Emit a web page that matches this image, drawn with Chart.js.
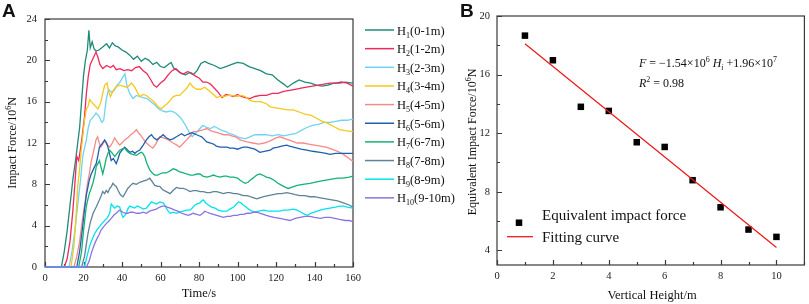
<!DOCTYPE html>
<html><head><meta charset="utf-8">
<script src="https://cdn.jsdelivr.net/npm/chart.js@4.4.0/dist/chart.umd.min.js"></script>
<style>
html,body{margin:0;padding:0;background:#fff;}
body{width:809px;height:304px;position:relative;overflow:hidden;}
canvas{position:absolute;top:0;}
#ca{left:0;}
#cb{left:456px;}
</style></head><body>
<canvas id="ca" width="460" height="304"></canvas>
<canvas id="cb" width="353" height="304"></canvas>
<script>
// ---------- Panel A data: [time (s), impact force (10^6 N)] ----------
const H1 = [[0,0],[8.5,0],[10,1.5],[11.5,3.5],[13,6],[14.5,8.5],[16,10.5],[17,12],[18,13.5],[19,16],[20,18.5],[21,20],[22,21],[22.8,22.9],[23.5,21.2],[24.5,21.8],[25.5,21.1],[26.5,20.9],[28,21.0],[30,21.3],[32,21.6],[33.5,21.2],[35,21.7],[36.5,21.4],[38,21.3],[40,21.0],[42,20.8],[44,20.5],[46,20.1],[48,20.4],[50,19.9],[52,20.2],[54,20.0],[56,19.6],[58,19.8],[60,19.4],[62,19.3],[64,19.6],[65.5,19.8],[67,19.2],[69,19.0],[71,18.7],[73,18.6],[75,18.8],[77,18.6],[79,19.0],[81,19.7],[83,19.9],[85,19.7],[88,19.5],[91,19.2],[94,19.4],[97,19.6],[100,19.8],[103,19.7],[106,19.4],[109,19.2],[112,19.0],[115,18.7],[118,18.6],[121,18.1],[124,17.7],[126,17.4],[129,17.8],[132,18.1],[135,17.9],[138,17.8],[141,17.6],[144,17.5],[147,17.6],[150,17.8],[153,17.8],[156,17.9],[160,17.8]];
const H2 = [[0,0],[10,0],[11.5,0.8],[13,2.5],[14.5,5.5],[15.5,8],[16.5,10.7],[17.5,10.3],[18.5,11.5],[19.5,12.9],[20.5,14.5],[21.5,16.8],[22.5,18.5],[23.5,19.6],[25,20.2],[26.5,20.8],[27.5,20.3],[28.5,19.6],[30,19.2],[32,19.5],[34,19.3],[35.5,19.5],[37,19.1],[39,19.2],[41,19.0],[43,19.1],[45,19.0],[47,19.3],[49,19.4],[51,19.0],[53,18.7],[55,18.1],[56.5,17.6],[58,17.4],[60,17.8],[62,18.1],[64,18.6],[66,19.0],[68,19.2],[70,18.8],[72,18.7],[74,18.9],[76,18.8],[78,18.5],[80,18.3],[82,17.9],[84,17.9],[86,17.7],[88,17.3],[90,16.9],[92,16.4],[94,16.7],[96,16.6],[98,16.5],[100,16.7],[102,16.5],[104,16.4],[106.5,16.3],[109,16.5],[112,16.6],[115,16.6],[118,16.8],[121,16.8],[124,17.0],[127,17.1],[130,17.2],[133,17.3],[136,17.4],[139,17.5],[142,17.6],[145,17.7],[148,17.8],[151,17.8],[154,17.9],[157,17.8],[160,17.5]];
const H3 = [[0,0],[12.5,0],[14,1.5],[15.5,3.5],[17,6],[18.5,8.5],[19.6,10.7],[20.5,11.5],[21.5,12.3],[22.5,13.5],[23.5,14.2],[25,14.5],[26.5,14.9],[28,14.6],[29.5,14.0],[30.5,14.2],[31.8,16.2],[33,17.2],[34.5,16.9],[36,17.1],[37.5,17.6],[39,17.9],[40.5,18.4],[41.5,18.7],[42.5,17.6],[44,16.8],[45.7,16.3],[47.5,16.6],[49,16.5],[51,16.4],[53,16.3],[55,16.0],[57,15.7],[59,15.3],[61,15.1],[63,15.0],[65,15.1],[67,15.0],[69,14.7],[71,14.3],[73,13.7],[75,13.0],[76.5,12.6],[78,12.9],[80,13.3],[82,13.7],[84,13.5],[86,13.4],[88,13.6],[90,13.4],[92,13.2],[94,13.1],[96,12.9],[98,12.8],[100,12.6],[102,12.5],[104,12.4],[106.5,12.6],[109,12.8],[112,12.8],[115,12.8],[118,12.7],[121,12.8],[124,12.7],[127,12.8],[130,12.9],[133,13.2],[136,13.5],[139,13.7],[142,13.8],[145,14.0],[148,14.0],[151,14.1],[154,14.2],[157,14.2],[160,14.3]];
const H4 = [[0,0],[13.5,0],[15,2],[16,4.5],[17,7.8],[18,9.5],[18.8,11.3],[19.7,12.8],[20.5,14.2],[21.5,15.3],[22.3,15.5],[23.2,16.2],[24,16.0],[25,15.8],[26,15.6],[27.5,15.3],[28.5,15.7],[29.2,16.1],[30,16.8],[31,17.6],[32.2,17.8],[33.2,16.9],[34,16.5],[35,16.9],[36.2,17.3],[37.5,17.5],[38.8,17.6],[40.5,17.5],[42.3,17.4],[44,17.6],[45,17.8],[46.6,17.4],[48,16.9],[49.2,16.5],[51,16.7],[52.7,16.6],[54.5,16.3],[56,16.1],[57.5,15.8],[58.8,15.5],[60.5,15.3],[62,15.6],[63.5,15.8],[65,16.1],[66.6,16.5],[68.5,16.6],[70,16.6],[72,17.0],[73.6,17.3],[75.3,17.8],[77,17.4],[79,17.2],[81,17.2],[83,17.4],[85.5,17.0],[87.5,16.7],[89.2,16.4],[91,16.5],[93,16.5],[95,16.6],[97,16.6],[99.7,16.5],[102,16.6],[104,16.5],[106.6,16.1],[109,16.0],[112,16.0],[115,15.8],[117,15.5],[120,15.4],[123,15.3],[126,15.2],[129,15.2],[132,15.0],[135,14.8],[138,14.7],[141,14.4],[144,14.1],[147,13.9],[150,13.6],[153,13.3],[156,13.2],[160,13.1]];
const H5 = [[0,0],[15,0],[16.5,1],[18,2.5],[19.6,4.8],[21,6.5],[22,8],[23,9],[24,10.2],[25,11],[25.7,11.6],[26.5,12.3],[27.3,12.6],[28.2,12.0],[29,11.6],[30,11.9],[31,12.2],[32,11.9],[33.6,11.6],[35,12.0],[36.2,12.5],[37.5,12.1],[38.8,11.8],[40,12.0],[41.4,12.3],[43,12.5],[44.5,12.8],[46,13.0],[47.5,13.3],[48.5,13.0],[49.5,12.8],[51,12.4],[52.7,12.0],[54.5,11.7],[56,11.5],[57.5,11.9],[59.6,12.6],[61.5,12.5],[63,12.4],[65,12.2],[66.6,12.0],[68.5,11.8],[70,11.6],[72,12.0],[73.6,12.3],[75.5,12.7],[77,13.1],[79,13.1],[80.5,13.2],[82.5,13.3],[84,13.4],[86,13.2],[87.5,13.1],[89.5,13.0],[91,12.9],[93,12.8],[95,12.8],[97,12.7],[99,12.6],[101.4,12.3],[103,12.2],[105,12.1],[108,12.0],[111,11.9],[114,12.0],[117,12.2],[120,12.5],[122,12.6],[125,12.4],[128,12.2],[131,12.0],[134,12.0],[137,11.9],[140,11.8],[143,11.7],[146,11.6],[149,11.4],[152,11.2],[155,10.9],[158,10.5],[160,10.2]];
const H6 = [[0,0],[16.5,0],[18,1.5],[19.5,3.8],[20.5,5.5],[21.5,7],[23,8.4],[24,9.0],[25,9.4],[26,9.8],[26.6,10.0],[27.5,10.8],[28.3,11.6],[29.5,11.9],[31,12.3],[32,12.0],[32.7,11.6],[33.5,11.0],[34.4,10.3],[35.5,10.5],[37,10.0],[38,10.5],[38.8,11.0],[40,11.3],[41.4,11.6],[42.5,11.4],[44,11.1],[45.5,11.2],[46.6,11.0],[48,11.2],[49.2,11.3],[51,11.8],[52.7,12.3],[54,12.6],[55.3,12.8],[56.5,12.5],[58,12.3],[59.5,12.5],[61.4,12.8],[63,12.5],[65,12.3],[66.5,12.4],[68.3,12.6],[70,12.8],[71,12.9],[72.5,12.7],[73.6,12.8],[75,12.9],[76.2,13.0],[77.5,12.9],[78.8,12.8],[80,12.7],[81.4,12.6],[83,12.3],[84,12.1],[86,12.0],[87.5,11.9],[89,11.7],[91,11.6],[93,11.6],[94.5,11.6],[96,11.5],[98,11.5],[100,11.4],[101.5,11.5],[103,11.6],[105,11.6],[107,11.5],[109,11.4],[111.6,11.1],[114,11.2],[117,11.3],[118.5,11.5],[121,11.6],[123,11.7],[125.5,11.8],[127,11.7],[129,11.6],[131,11.5],[133,11.4],[136,11.3],[139,11.2],[143,11.1],[146,11.0],[148,10.9],[151,11.0],[153,11.0],[156,11.0],[160,11.0]];
const H7 = [[0,0],[17.5,0],[19,1.5],[20,3.5],[21.4,5.8],[22.2,6.5],[23,7.1],[24,7.6],[25,8.2],[26,9.0],[26.6,9.7],[27.5,10.0],[28.3,10.3],[29.2,9.6],[30,9.0],[31,9.8],[31.8,10.5],[32.7,11.0],[33.6,11.3],[35,11.0],[36.2,10.7],[37.5,11.0],[38.8,11.3],[40,11.4],[41.4,11.5],[42.7,11.2],[44,11.0],[45.5,10.9],[47.5,10.8],[49,11.0],[50,11.1],[50.8,11.0],[51.8,10.7],[53,10.0],[54.4,9.4],[55.7,9.1],[57,8.9],[58.5,8.9],[59.6,9.0],[61,9.1],[63,9.1],[65,9.3],[66.6,9.5],[68.3,9.4],[70,9.2],[72,9.1],[73.6,9.0],[75.5,8.9],[77,8.9],[79,9.0],[80.5,9.0],[82,8.8],[84,8.7],[86,8.8],[87.5,8.9],[89,8.8],[91,8.7],[93,8.8],[94.4,8.8],[96,8.7],[98,8.7],[100,8.6],[101.4,8.4],[103,8.2],[104,8.1],[105.5,8.2],[106.6,8.4],[108,8.6],[110,8.9],[111.5,9.0],[113,8.9],[115,8.7],[117,8.6],[119,8.4],[121,8.1],[123,7.9],[125,7.7],[126.5,7.6],[128,7.7],[131,7.9],[134,8.0],[137.6,8.1],[140,8.2],[143,8.3],[146,8.4],[149,8.5],[152,8.6],[155,8.6],[158,8.7],[160,8.8]];
const H8 = [[0,0],[19,0],[20.5,1],[22.3,3.2],[23.5,4.3],[25,5.2],[26.6,5.8],[28.3,6.5],[29.2,6.9],[30,7.3],[31,7.1],[31.8,7.4],[32.7,7.2],[33.6,7.6],[34.5,7.8],[35.3,8.1],[36.2,7.9],[37,7.8],[38,7.4],[38.8,7.1],[39.7,6.9],[40.5,6.8],[41.5,7.1],[43,7.6],[44.5,7.9],[45.7,8.1],[47.5,8.0],[49.2,8.2],[51,8.3],[52.7,8.4],[54.4,8.6],[55.5,8.3],[57,7.9],[58.5,7.8],[59.6,7.8],[61,7.5],[63,7.3],[65,7.1],[66.5,7.4],[68.3,7.7],[70,7.6],[71.8,7.6],[73.5,7.5],[75.3,7.3],[77,7.4],[78.8,7.4],[80.5,7.3],[82.3,7.3],[84,7.2],[85.7,7.2],[87.5,7.3],[89.2,7.3],[91,7.2],[92.7,7.1],[94.5,7.2],[96.2,7.2],[98,7.1],[99.7,7.1],[101.5,7.0],[103,6.9],[105,6.9],[106.6,6.8],[108.5,6.7],[110,6.6],[111.6,6.7],[113.6,6.8],[116,6.9],[118.5,7.0],[121,7.1],[123,7.1],[125.5,7.2],[128,7.1],[130,7.0],[132.5,6.9],[135,6.9],[137.5,6.8],[140,6.8],[143,6.7],[146,6.6],[149,6.5],[152,6.4],[155,6.2],[158,6.0],[160,5.8]];
const H9 = [[0,0],[20.5,0],[21.5,0.8],[23,1.9],[24.3,2.6],[25.7,3.2],[27,3.6],[28.3,3.9],[29.5,4.2],[31,4.5],[32.5,4.8],[33.6,5.2],[34.4,6.1],[35.3,5.9],[36.2,5.7],[37.5,5.9],[38.8,5.8],[39.7,5.2],[40.5,4.8],[41.5,5.0],[42.3,5.2],[43,5.6],[44,5.9],[45.3,5.8],[46.6,5.7],[48,5.9],[49.2,5.8],[51,5.6],[52.7,5.7],[54,6.0],[55.3,6.3],[56.5,6.2],[58,6.1],[59.6,6.3],[61.4,6.2],[62.2,6.0],[63,5.7],[64,5.4],[65,5.2],[66.6,5.3],[68.3,5.2],[70,5.3],[71.8,5.4],[73.5,5.5],[75.3,5.5],[76.5,5.7],[77.9,6.0],[79,6.1],[80.5,6.2],[81.5,6.4],[82.3,6.5],[83.5,6.2],[84.9,6.0],[86.5,5.8],[88.3,5.7],[90,5.5],[91.8,5.4],[93,5.4],[94.4,5.4],[96,5.6],[98,5.8],[99.5,6.1],[100.5,6.3],[101.8,6.2],[103,6.0],[104.5,5.8],[105.7,5.6],[107.5,5.4],[109,5.3],[111,5.4],[113.6,5.5],[116,5.4],[118,5.4],[120,5.4],[122,5.4],[124,5.5],[126,5.5],[129,5.6],[131,5.5],[133,5.3],[135,5.1],[136.5,5.0],[138,5.2],[140,5.3],[141.5,5.4],[143,5.5],[145,5.6],[148,5.7],[151,5.8],[153,5.9],[155,5.9],[157,5.8],[160,5.7]];
const H10 = [[0,0],[21.5,0],[23,0.6],[24,1.3],[25.3,2.0],[26.6,2.6],[28,3.1],[29.2,3.6],[30.5,3.9],[31.8,4.2],[33,4.4],[34.4,4.7],[35.7,5.0],[37,5.2],[38,5.4],[38.8,5.5],[39.7,5.4],[40.5,5.3],[41.7,5.2],[43,5.2],[44.3,5.3],[45.7,5.3],[47.5,5.2],[49.2,5.2],[51,5.3],[52.7,5.2],[54.3,5.4],[56,5.5],[57.8,5.6],[59.6,5.8],[61,5.9],[62.3,5.9],[63.5,5.8],[65,5.7],[66.3,5.6],[67.5,5.5],[69,5.4],[71,5.2],[72.7,5.1],[74.4,5.0],[75.7,5.1],[77,5.2],[78.8,5.1],[80.5,5.0],[82,5.2],[83,5.4],[84.3,5.3],[85.7,5.2],[87.5,5.1],[89.2,5.0],[91,4.9],[92.7,4.8],[94.5,4.9],[96.2,4.9],[98,5.0],[99.7,5.0],[101.5,5.1],[103,5.1],[105,5.2],[106.6,5.2],[108.5,5.3],[110,5.3],[111.8,5.2],[113.5,5.1],[115,5.0],[116.8,4.9],[119,4.8],[122,4.7],[124.5,4.6],[127.2,4.5],[130,4.7],[132.5,4.8],[135,4.9],[137.6,4.9],[140,4.8],[143,4.7],[145.5,4.8],[148,4.8],[150.5,4.7],[153,4.6],[156,4.5],[158,4.5],[160,4.4]];

const seriesA = [H1,H2,H3,H4,H5,H6,H7,H8,H9,H10];
const subA = ['1','2','3','4','5','6','7','8','9','10'];
const rangeA = ['(0-1m)','(1-2m)','(2-3m)','(3-4m)','(4-5m)','(5-6m)','(6-7m)','(7-8m)','(8-9m)','(9-10m)'];
const colorsA = ['#1f8a78','#ee2a5c','#6fd3f3','#f4c81c','#f58a88','#1f5fae','#14b374','#5f8398','#00e4ec','#8a74e2'];
const xTicksA = [0,20,40,60,80,100,120,140,160];
const xMinorA = [10,30,50,70,90,110,130,150];
const yTicksA = [0,4,8,12,16,20,24];
const yMinorA = [2,6,10,14,18,22];

// ---------- Panel B data ----------
const heightsB = [1,2,3,4,5,6,7,8,9,10];
const forceB = [18.66,16.98,13.8,13.52,11.38,11.06,8.79,6.94,5.42,4.92];
const fitXB = [1,10];
const fitYB = [18.1,4.2];
const xTicksB = [0,2,4,6,8,10];
const xMinorB = [1,3,5,7,9,11];
const yTicksB = [4,8,12,16,20];
const yMinorB = [6,10,14,18];

const SERIF = '"Liberation Serif","Times New Roman",serif';
const SANS = '"Liberation Sans",Arial,sans-serif';

function rich(ctx, parts, x, y, align) {
  let w = 0;
  parts.forEach(p => { ctx.font = (p[3]||'') + ' ' + p[1] + 'px ' + SERIF; w += ctx.measureText(p[0]).width; });
  let cx = align === 'center' ? x - w/2 : x;
  ctx.textAlign = 'left'; ctx.textBaseline = 'alphabetic';
  parts.forEach(p => {
    ctx.font = (p[3]||'') + ' ' + p[1] + 'px ' + SERIF;
    ctx.fillText(p[0], cx, y + p[2]);
    cx += ctx.measureText(p[0]).width;
  });
}

const framePlugin = {
  id: 'frame',
  beforeDatasetsDraw(chart, args, o) {
    const {ctx, chartArea: a, scales: {x, y}} = chart;
    ctx.save();
    ctx.strokeStyle = '#3a3a3a'; ctx.lineWidth = 1.2;
    ctx.strokeRect(a.left, a.top, a.right - a.left, a.bottom - a.top);
    ctx.beginPath();
    o.xMajor.forEach(v => { const p = Math.round(x.getPixelForValue(v)) + 0.5; ctx.moveTo(p, a.bottom); ctx.lineTo(p, a.bottom - 5); });
    o.xMinor.forEach(v => { const p = Math.round(x.getPixelForValue(v)) + 0.5; ctx.moveTo(p, a.bottom); ctx.lineTo(p, a.bottom - 3); });
    o.yMajor.forEach(v => { const p = Math.round(y.getPixelForValue(v)) + 0.5; ctx.moveTo(a.left, p); ctx.lineTo(a.left + 5, p); });
    o.yMinor.forEach(v => { const p = Math.round(y.getPixelForValue(v)) + 0.5; ctx.moveTo(a.left, p); ctx.lineTo(a.left + 3, p); });
    ctx.stroke();
    ctx.restore();
  },
  afterDraw(chart, args, o) {
    const ctx = chart.ctx;
    ctx.save();
    ctx.fillStyle = '#111';
    o.draw(ctx, chart);
    ctx.restore();
  }
};

function tickFont() { return {family: SERIF, size: 10.5}; }

// ---------- Chart A ----------
new Chart(document.getElementById('ca'), {
  type: 'line',
  data: {
    datasets: seriesA.map((s, i) => ({
      label: 'H' + subA[i] + rangeA[i],
      data: s.map(p => ({x: p[0], y: p[1]})),
      borderColor: colorsA[i], borderWidth: 1.3, pointRadius: 0, tension: 0, fill: false, clip: false
    })).reverse()
  },
  plugins: [framePlugin],
  options: {
    responsive: false, animation: false, events: [],
    layout: {padding: {left: 0, top: 19, right: 107, bottom: 0}},
    plugins: {
      legend: {display: false}, tooltip: {enabled: false},
      frame: {
        xMajor: xTicksA, xMinor: xMinorA, yMajor: yTicksA, yMinor: yMinorA,
        draw(ctx) {
          ctx.font = 'bold 19px ' + SANS; ctx.textAlign = 'left'; ctx.textBaseline = 'alphabetic';
          ctx.fillText('A', 2, 17);
          // axis titles
          rich(ctx, [['Time/s', 12.5, 0, '']], 199, 297, 'center');
          ctx.save(); ctx.translate(12, 143); ctx.rotate(-Math.PI/2);
          rich(ctx, [['Impact Force/10', 12, 0, ''], ['6', 8, -5, ''], ['N', 12, 0, '']], 0, 4, 'center');
          ctx.restore();
          // legend
          for (let i = 0; i < 10; i++) {
            const yy = 30 + i * 18.65;
            ctx.strokeStyle = colorsA[i]; ctx.lineWidth = 1.5;
            ctx.beginPath(); ctx.moveTo(365, yy); ctx.lineTo(394, yy); ctx.stroke();
            rich(ctx, [['H', 12.5, 0, ''], [subA[i], 8, 3, ''], [rangeA[i], 12.5, 0, '']], 397, yy + 4.5, 'left');
          }
        }
      }
    },
    scales: {
      x: {
        type: 'linear', min: 0, max: 160,
        afterFit(s) { s.height = 37; },
        afterBuildTicks(s) { s.ticks = xTicksA.map(v => ({value: v})); },
        grid: {display: false, drawTicks: false}, border: {display: false},
        ticks: {font: tickFont(), color: '#1a1a1a', padding: 5, maxRotation: 0, autoSkip: false}
      },
      y: {
        type: 'linear', min: 0, max: 24,
        afterFit(s) { s.width = 45; },
        afterBuildTicks(s) { s.ticks = yTicksA.map(v => ({value: v})); },
        grid: {display: false, drawTicks: false}, border: {display: false},
        ticks: {font: tickFont(), color: '#1a1a1a', padding: 8}
      }
    }
  }
});

// ---------- Chart B ----------
new Chart(document.getElementById('cb'), {
  type: 'scatter',
  data: {
    datasets: [
      {
        label: 'Fitting curve',
        data: fitXB.map((v, i) => ({x: v, y: fitYB[i]})),
        showLine: true, borderColor: '#ee1b1b', borderWidth: 1.3, pointRadius: 0, clip: false
      },
      {
        label: 'Equivalent impact force',
        data: heightsB.map((v, i) => ({x: v, y: forceB[i]})),
        pointStyle: 'rect', pointRadius: 4.6, backgroundColor: '#000', borderColor: '#000', borderWidth: 0, clip: false
      }
    ]
  },
  plugins: [framePlugin],
  options: {
    responsive: false, animation: false, events: [],
    layout: {padding: {left: 0, top: 16, right: 3, bottom: 0}},
    plugins: {
      legend: {display: false}, tooltip: {enabled: false},
      frame: {
        xMajor: xTicksB, xMinor: xMinorB, yMajor: yTicksB, yMinor: yMinorB,
        draw(ctx) {
          ctx.font = 'bold 19px ' + SANS; ctx.textAlign = 'left'; ctx.textBaseline = 'alphabetic';
          ctx.fillText('B', 4, 17);
          rich(ctx, [['Vertical Height/m', 12.5, 0, '']], 196, 299, 'center');
          ctx.save(); ctx.translate(16, 142); ctx.rotate(-Math.PI/2);
          rich(ctx, [['Equivalent Impact Force/10', 12, 0, ''], ['6', 8, -5, ''], ['N', 12, 0, '']], 0, 4, 'center');
          ctx.restore();
          // equation
          rich(ctx, [['F', 12, 0, 'italic'], [' = \u22121.54\u00d710', 12, 0, ''], ['6', 8, -5, ''], [' ', 12, 0, ''], ['H', 12, 0, 'italic'], ['i', 8, 3, 'italic'], [' +1.96\u00d710', 12, 0, ''], ['7', 8, -5, '']], 183, 67, 'left');
          rich(ctx, [['R', 12, 0, 'italic'], ['2', 8, -5, ''], [' = 0.98', 12, 0, '']], 183, 87, 'left');
          // legend
          ctx.fillStyle = '#000';
          ctx.fillRect(63 - 3.25, 222.7 - 3.25, 6.5, 6.5);
          ctx.strokeStyle = '#ee1b1b'; ctx.lineWidth = 1.3;
          ctx.beginPath(); ctx.moveTo(51, 236.7); ctx.lineTo(77, 236.7); ctx.stroke();
          ctx.fillStyle = '#111';
          rich(ctx, [['Equivalent impact force', 15, 0, '']], 86, 220, 'left');
          rich(ctx, [['Fitting curve', 15, 0, '']], 86, 241.5, 'left');
        }
      }
    },
    scales: {
      x: {
        type: 'linear', min: 0, max: 11,
        afterFit(s) { s.height = 39; },
        afterBuildTicks(s) { s.ticks = xTicksB.map(v => ({value: v})); },
        grid: {display: false, drawTicks: false}, border: {display: false},
        ticks: {font: tickFont(), color: '#1a1a1a', padding: 5, maxRotation: 0, autoSkip: false}
      },
      y: {
        type: 'linear', min: 3, max: 20,
        afterFit(s) { s.width = 41; },
        afterBuildTicks(s) { s.ticks = yTicksB.map(v => ({value: v})); },
        grid: {display: false, drawTicks: false}, border: {display: false},
        ticks: {font: tickFont(), color: '#1a1a1a', padding: 7}
      }
    }
  }
});
</script>
</body></html>
